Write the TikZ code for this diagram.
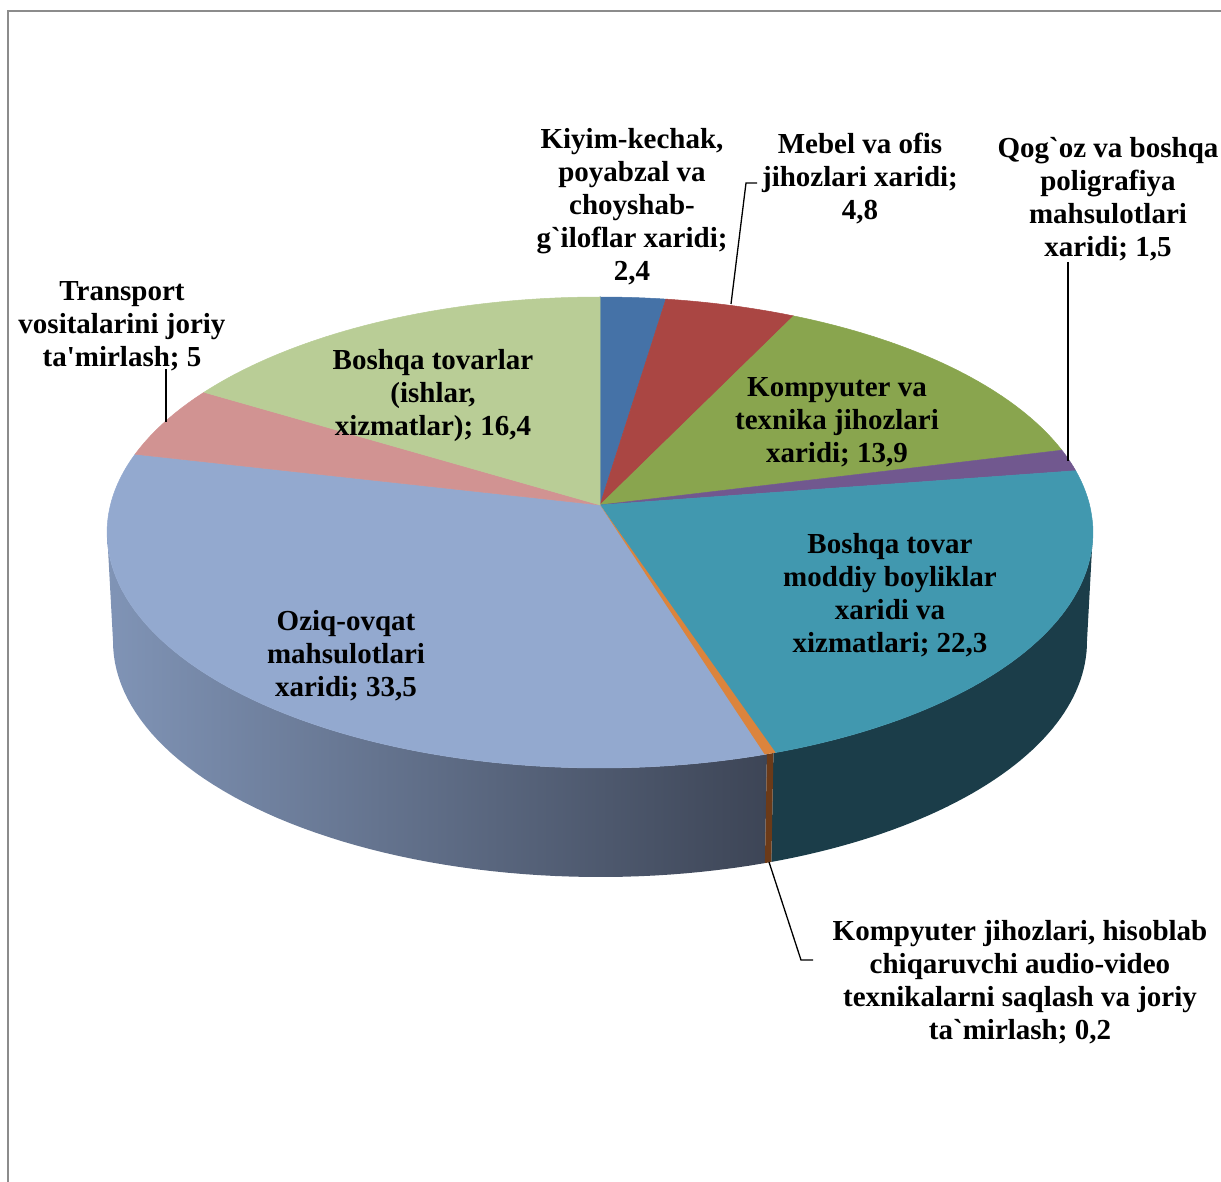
\documentclass[tikz,border=0pt]{standalone}
\usepackage{fontspec}
\newfontfamily\lab{Liberation Serif}
\definecolor{cKiyim}{HTML}{4572A7}
\definecolor{cMebel}{HTML}{AA4643}
\definecolor{cKomp}{HTML}{89A54E}
\definecolor{cQog}{HTML}{71588F}
\definecolor{cBosh}{HTML}{4198AF}
\definecolor{cOrange}{HTML}{DB843D}
\definecolor{cOziq}{HTML}{93A9CF}
\definecolor{cTrans}{HTML}{D19392}
\definecolor{cBoshT}{HTML}{B9CD96}
\definecolor{sideL}{HTML}{8094B6}
\definecolor{sideR}{HTML}{3D4556}
\definecolor{sideTeal}{HTML}{1B3D49}
\definecolor{sideOrange}{HTML}{6B3A18}
\definecolor{frame}{HTML}{8C8C8C}
\begin{document}
\begin{tikzpicture}[x=1pt,y=-1pt,
  declare function={
    kk(\t)=1+0.1168*cos(\t);
    tx(\t)=600+489.6*sin(\t)/kk(\t);
    ty(\t)=505-232.3*cos(\t)/kk(\t);
    bx(\t)=600+483.7*sin(\t)/kk(\t);
    by(\t)=614-232.3*cos(\t)/kk(\t);
  },
  lbl/.style={font=\lab\bfseries\fontsize{29}{33}\selectfont, align=center, inner sep=0pt, text=black},
  leader/.style={draw=black, line width=1.3pt},
  slice/.style={fill=#1, draw=#1, line width=0.5pt, line join=round}
]
\useasboundingbox (0,0) rectangle (1221,1182);
% frame
\draw[frame, line width=2pt] (8,1182) -- (8,11) -- (1221,11);

\coordinate (O) at (600,505);

% sides
\path[left color=sideL, right color=sideR]
  plot[domain=162.36:263.3, samples=60, variable=\t] ({tx(\t)},{ty(\t)})
  -- plot[domain=263.3:162.36, samples=60, variable=\t] ({bx(\t)},{by(\t)}) -- cycle;
\fill[sideTeal]
  plot[domain=96.7:161.64, samples=50, variable=\t] ({tx(\t)},{ty(\t)})
  -- plot[domain=161.64:96.7, samples=50, variable=\t] ({bx(\t)},{by(\t)}) -- cycle;
\fill[sideOrange]
  plot[domain=161.64:162.36, samples=3, variable=\t] ({tx(\t)},{ty(\t)})
  -- plot[domain=162.36:161.64, samples=3, variable=\t] ({bx(\t)},{by(\t)}) -- cycle;

% top face
\path[slice=cKiyim] (O) -- plot[domain=0:8.64, samples=8, variable=\t] ({tx(\t)},{ty(\t)}) -- cycle;
\path[slice=cMebel] (O) -- plot[domain=8.64:25.92, samples=12, variable=\t] ({tx(\t)},{ty(\t)}) -- cycle;
\path[slice=cKomp] (O) -- plot[domain=25.92:75.96, samples=40, variable=\t] ({tx(\t)},{ty(\t)}) -- cycle;
\path[slice=cQog] (O) -- plot[domain=75.96:81.36, samples=6, variable=\t] ({tx(\t)},{ty(\t)}) -- cycle;
\path[slice=cBosh] (O) -- plot[domain=81.36:161.64, samples=60, variable=\t] ({tx(\t)},{ty(\t)}) -- cycle;
\path[slice=cOziq] (O) -- plot[domain=162.36:282.96, samples=80, variable=\t] ({tx(\t)},{ty(\t)}) -- cycle;
\path[slice=cTrans] (O) -- plot[domain=282.96:300.96, samples=12, variable=\t] ({tx(\t)},{ty(\t)}) -- cycle;
\path[slice=cBoshT] (O) -- plot[domain=300.96:360, samples=40, variable=\t] ({tx(\t)},{ty(\t)}) -- cycle;
\path[fill=cOrange] (O) -- plot[domain=161.4:162.6, samples=3, variable=\t] ({tx(\t)},{ty(\t)}) -- cycle;

% labels
\node[lbl] (kiyim) at (632,207) {Kiyim-kechak,\\poyabzal va\\choyshab-\\g`iloflar xaridi;\\2,4};
\node[lbl] (mebel) at (860,179) {Mebel va ofis\\jihozlari xaridi;\\4,8};
\node[lbl] (qogoz) at (1108,199) {Qog`oz va boshqa\\poligrafiya\\mahsulotlari\\xaridi; 1,5};
\node[lbl] (trans) at (122,326) {Transport\\vositalarini joriy\\ta'mirlash; 5};
\node[lbl] (bosht) at (433,396) {Boshqa tovarlar\\(ishlar,\\xizmatlar); 16,4};
\node[lbl] (komp) at (837,422) {Kompyuter va\\texnika jihozlari\\xaridi; 13,9};
\node[lbl] (bosh) at (890,595) {Boshqa tovar\\moddiy boyliklar\\xaridi va\\xizmatlari; 22,3};
\node[lbl] (oziq) at (346,656) {Oziq-ovqat\\mahsulotlari\\xaridi; 33,5};
\node[lbl] (kjih) at (1020,982) {Kompyuter jihozlari, hisoblab\\chiqaruvchi audio-video\\texnikalarni saqlash va joriy\\ta`mirlash; 0,2};

% leader lines
\coordinate (mebelRim) at (731,304);
\coordinate (mebelBend) at (746,183);
\coordinate (mebelEnd) at (757,183);
\draw[leader] (mebelRim) -- (mebelBend) -- (mebelEnd);
\coordinate (qogTop) at (1068,262);
\coordinate (qogRim) at (1068,461);
\draw[leader] (qogTop) -- (qogRim);
\coordinate (transTop) at (166,369);
\coordinate (transRim) at (166,422);
\draw[leader] (transTop) -- (transRim);
\coordinate (kjRim) at (769,862);
\coordinate (kjBend) at (801,960);
\coordinate (kjEnd) at (813,960);
\draw[leader] (kjRim) -- (kjBend) -- (kjEnd);
\end{tikzpicture}
\end{document}
